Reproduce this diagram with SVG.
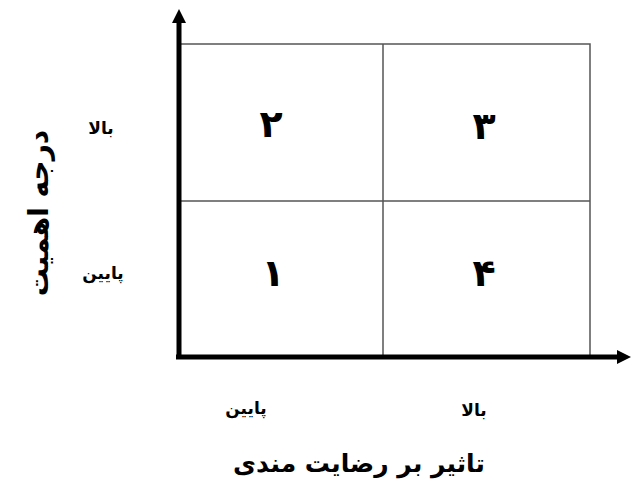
<svg xmlns="http://www.w3.org/2000/svg" width="634" height="502" viewBox="0 0 634 502">
<style>
.grid{stroke:#555;stroke-width:1.5;fill:none}
.axis{stroke:#000;stroke-width:5;fill:none}
.t{font-family:"DejaVu Sans",sans-serif;fill:#000;text-anchor:middle;font-weight:bold}
.lbl{font-size:17px}
.num{font-size:38px}
.title{font-size:25px}
</style>
<defs>
<marker id="ah" viewBox="0 0 10 10" refX="5" refY="5" markerWidth="2.8" markerHeight="2.8" orient="auto" markerUnits="strokeWidth">
<path d="M0,0 L10,5 L0,10 z" fill="#000"/>
</marker>
</defs>
<rect width="634" height="502" fill="#fff"/>
<g id="grid">
<rect class="grid" x="180" y="44" width="410" height="313"/>
<line class="grid" x1="383" y1="44" x2="383" y2="357"/>
<line class="grid" x1="180" y1="201" x2="590" y2="201"/>
</g>
<g id="connectors">
<line class="axis" x1="179" y1="359" x2="179" y2="16" marker-end="url(#ah)"/>
<line class="axis" x1="176" y1="357" x2="624" y2="357" marker-end="url(#ah)"/>
</g>
<g id="cell2"><text class="t num" x="271" y="137">۲</text></g>
<g id="cell3"><text class="t num" x="484" y="139">۳</text></g>
<g id="cell1"><text class="t num" x="273" y="286">۱</text></g>
<g id="cell4"><text class="t num" x="484" y="286">۴</text></g>
<g id="ylabels">
<text class="t lbl" x="101" y="134">بالا</text>
<text class="t lbl" x="103" y="279">پایین</text>
</g>
<g id="xlabels">
<text class="t lbl" x="246" y="414">پایین</text>
<text class="t lbl" x="474" y="416">بالا</text>
</g>
<g id="ytitle"><text class="t title" transform="translate(48,213) rotate(-90)" style="font-size:28px">درجه اهمیت</text></g>
<g id="xtitle"><text class="t title" x="359" y="472">تاثیر بر رضایت مندی</text></g>
</svg>
